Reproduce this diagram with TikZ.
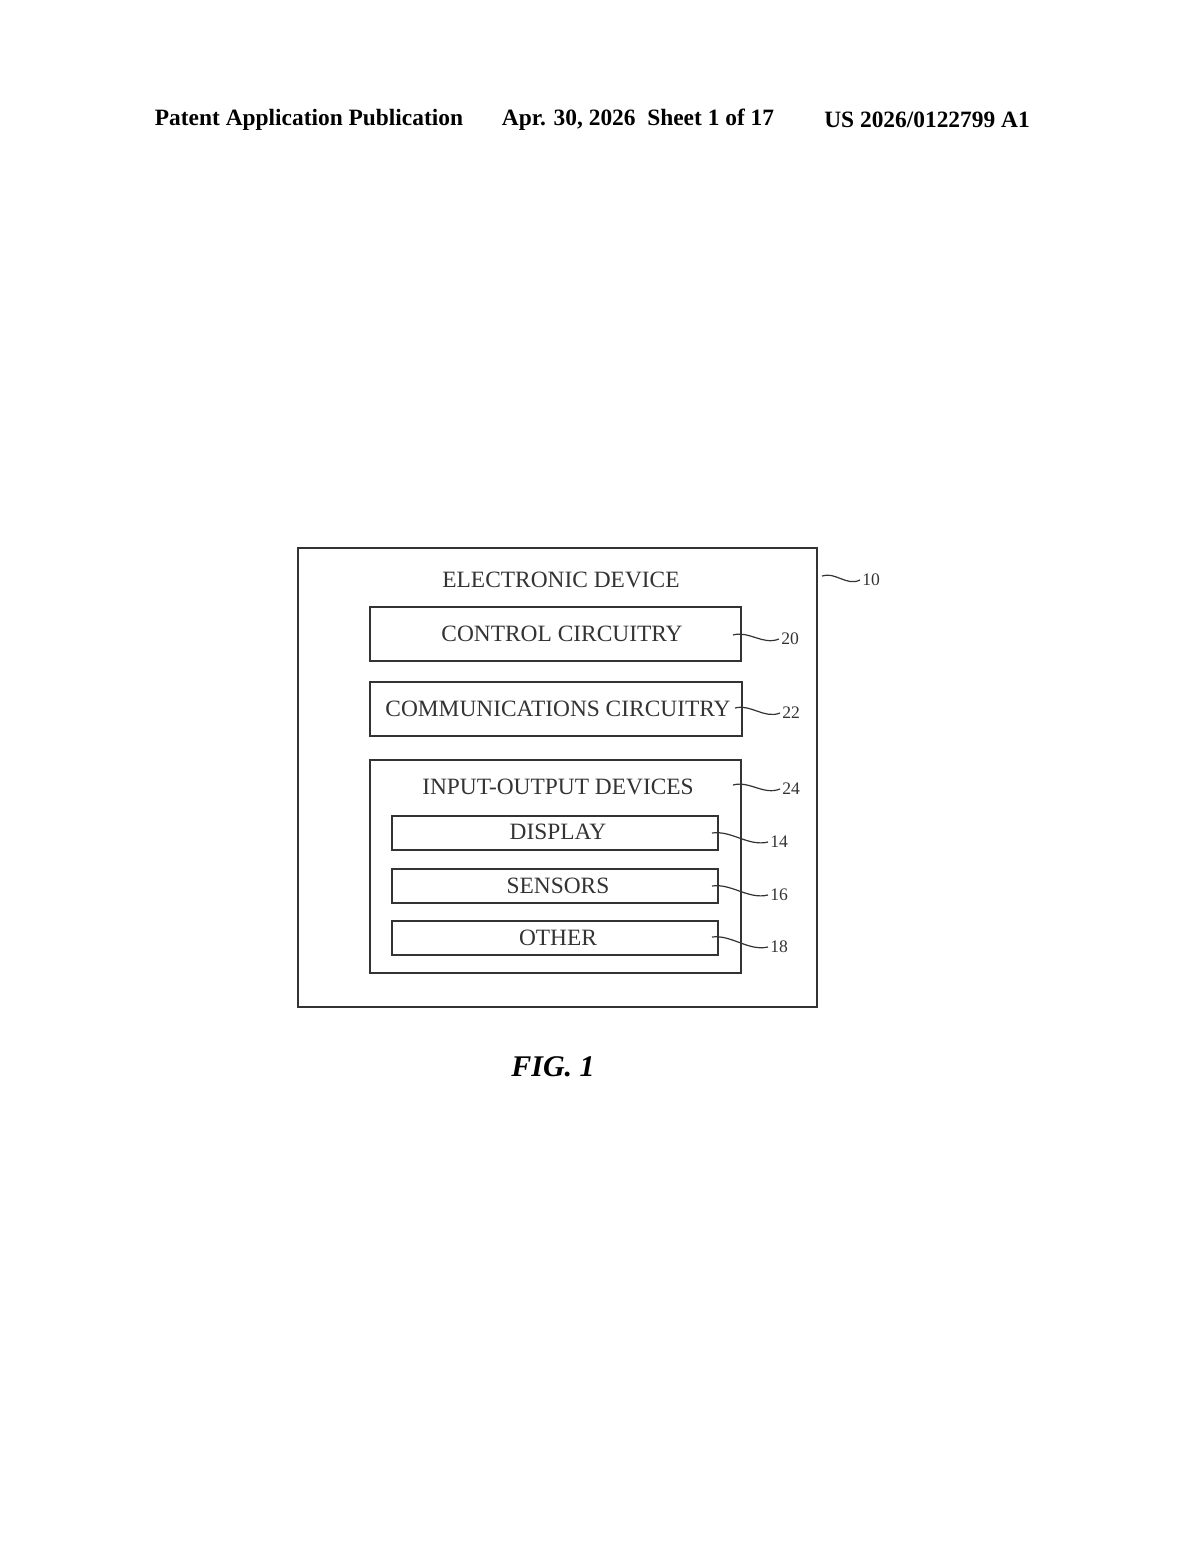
\documentclass[tikz,border=0pt]{standalone}
\usepackage{fontspec}
\setmainfont{Liberation Serif}
\usetikzlibrary{calc}
\begin{document}
\begin{tikzpicture}[x=0.5pt,y=-0.5pt,
  box/.style={draw=black!80,line width=1pt},
  lbl/.style={font=\fontsize{11.7}{13}\selectfont,text=black!80,inner sep=0pt},
  num/.style={font=\fontsize{8.8}{10}\selectfont,text=black!80,inner sep=1pt,anchor=west},
  lead/.style={draw=black!80,line width=0.6pt},
  hdr/.style={font=\bfseries\fontsize{11.7}{13}\selectfont,inner sep=0pt}]
\useasboundingbox (0,0) rectangle (1200,1547);
\node[hdr] (h1) at (309,120) {Patent Application Publication};
\node[hdr] (h2) at (638,120) {Apr. 30, 2026\ \ Sheet 1 of 17};
\node[hdr] (h3) at (927,120) {US 2026/0122799 A1};
\draw[box] (298,548) rectangle (817,1007);
\node[lbl] (ed) at (561,580) {ELECTRONIC DEVICE};
\draw[box] (370,607) rectangle (741,661);
\node[lbl] (cc) at (562,634) {CONTROL CIRCUITRY};
\draw[box] (370,682) rectangle (742,736);
\node[lbl] (co) at (558,709) {COMMUNICATIONS CIRCUITRY};
\draw[box] (370,760) rectangle (741,973);
\node[lbl] (io) at (558,787) {INPUT-OUTPUT DEVICES};
\draw[box] (392,816) rectangle (718,850);
\node[lbl] (di) at (558,832) {DISPLAY};
\draw[box] (392,869) rectangle (718,903);
\node[lbl] (se) at (558,886) {SENSORS};
\draw[box] (392,921) rectangle (718,955);
\node[lbl] (ot) at (558,938) {OTHER};
\node[num] (n10) at (860,580) {10};
\node[num] (n20) at (779,639) {20};
\node[num] (n22) at (780,713) {22};
\node[num] (n24) at (780,789) {24};
\node[num] (n14) at (768,842) {14};
\node[num] (n16) at (768,895) {16};
\node[num] (n18) at (768,947) {18};
\coordinate (a10) at (822,576);
\coordinate (a20) at (733,635);
\coordinate (a22) at (735,708);
\coordinate (a24) at (733,785);
\coordinate (a14) at (712,833);
\coordinate (a16) at (712,886);
\coordinate (a18) at (712,937);
\foreach \a/\n in {a10/n10,a20/n20,a22/n22,a24/n24,a14/n14,a16/n16,a18/n18}{
  \draw[lead] (\a) .. controls ($(\a)!0.35!(\n.west)+(0,-6)$) and ($(\a)!0.65!(\n.west)+(0,8)$) .. (\n.west);
}
\node[font=\bfseries\itshape\fontsize{15}{18}\selectfont,inner sep=0pt] (fig) at (553,1067) {FIG. 1};
\end{tikzpicture}
\end{document}
